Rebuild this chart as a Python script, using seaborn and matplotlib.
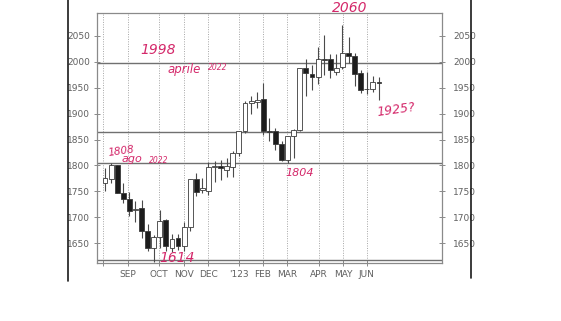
import matplotlib
matplotlib.use("Agg")
import matplotlib.pyplot as plt
import matplotlib.transforms as mtransforms
from matplotlib.lines import Line2D
import seaborn as sns
import numpy as np
import pandas as pd

# ---- data (weekly candles) ----
opens  = [1765, 1773, 1800, 1746, 1736, 1713, 1717, 1674, 1641, 1661,
          1694, 1641, 1659, 1645, 1680, 1773, 1753, 1751, 1796, 1798,
          1792, 1796, 1823, 1867, 1920, 1922, 1929, 1866, 1866, 1842,
          1810, 1856, 1869, 1988, 1977, 1970, 2006, 2005, 1981, 1990,
          2017, 2011, 1979, 1947, 1948, 1962]
highs  = [1794, 1804, 1801, 1765, 1748, 1732, 1734, 1686, 1666, 1713,
          1697, 1668, 1668, 1690, 1773, 1786, 1775, 1806, 1809, 1811,
          1815, 1827, 1867, 1924, 1935, 1941, 1960, 1891, 1872, 1848,
          1856, 1870, 1989, 2006, 1993, 2028, 2051, 2016, 2016, 2072,
          2048, 2017, 1984, 1981, 1972, 1970]
lows   = [1751, 1766, 1746, 1728, 1703, 1690, 1659, 1635, 1614, 1640,
          1635, 1632, 1637, 1635, 1674, 1740, 1746, 1742, 1767, 1771,
          1777, 1777, 1819, 1862, 1900, 1910, 1858, 1848, 1829, 1808,
          1804, 1814, 1866, 1935, 1945, 1958, 1974, 1968, 1974, 1986,
          1997, 1953, 1939, 1938, 1942, 1926]
closes = [1775, 1800, 1746, 1736, 1711, 1716, 1674, 1641, 1661, 1692,
          1645, 1657, 1645, 1680, 1773, 1748, 1757, 1796, 1799, 1794,
          1798, 1823, 1867, 1920, 1925, 1927, 1866, 1865, 1842, 1810,
          1856, 1869, 1988, 1979, 1970, 2006, 2003, 1984, 1989, 2017,
          2011, 1977, 1946, 1947, 1961, 1959]

month_pos    = [-0.33, 3.78, 8.87, 12.97, 16.92, 22.0, 25.95, 29.9, 35.1, 39.1, 43.0]
month_labels = ["", "SEP", "OCT", "NOV", "DEC", "'123", "FEB", "MAR", "APR", "MAY", "JUN"]
y_ticks      = [1650, 1700, 1750, 1800, 1850, 1900, 1950, 2000, 2050]
level_lines  = [1998, 1865, 1805, 1617]

# handwritten notes: (text, x_px, y_px, fontsize, rotation)
notes = [
    ("1998", 158, 50, 10, 0),
    ("aprile", 184, 69, 8.5, 0),
    ("2022", 218, 68, 5.5, 0),
    ("1808", 121, 151, 7.5, 8),
    ("ago", 132, 159, 8, 0),
    ("2022", 159, 160, 5.5, 0),
    ("1614", 177, 258, 10, 0),
    ("1804", 300, 173, 8, 0),
    ("2060", 350, 8, 10, 0),
    ("1925?", 396, 110, 9, 8),
]

df = pd.DataFrame({"open": opens, "high": highs, "low": lows, "close": closes})
df["idx"] = np.arange(len(df))
df["up"] = df["close"] >= df["open"]

sns.set_theme(style="white")
plt.rcParams["font.family"] = ["Liberation Sans Narrow", "DejaVu Sans"]

W, H = 561, 321
fig = plt.figure(figsize=(W / 100, H / 100), dpi=100)
fig.patch.set_facecolor("white")
ax = fig.add_axes([97 / W, 1 - 263 / H, (442 - 97) / W, (263 - 13) / H])
ax.set_facecolor("white")

# vertical dotted month grid
for p in month_pos:
    ax.axvline(p, color="#a5a5a5", lw=0.7, ls=(0, (1, 1.5)), zorder=0)

# level lines
for lv in level_lines:
    ax.axhline(lv, color="#707070", lw=1.0, zorder=1)

# wicks
ax.vlines(df["idx"], df["low"], df["high"], color="#4a4a4a", lw=0.8, zorder=2)

# bodies
bottoms = np.minimum(df["open"], df["close"])
heights = np.maximum(np.abs(df["close"] - df["open"]), 1.2)
face = np.where(df["up"], "white", "#1c1c1c")
ax.bar(df["idx"], heights, bottom=bottoms, width=0.8, color=face,
       edgecolor="#3a3a3a", linewidth=0.6, zorder=3)

ax.set_xlim(-1.31, 55.35)
ax.set_ylim(1611.4, 2094.4)
ax.set_xticks(month_pos)
ax.set_xticklabels(month_labels)
ax.set_yticks(y_ticks)
ax.set_yticklabels([str(v) for v in y_ticks])
ax.tick_params(axis="y", left=True, right=True, labelleft=True, labelright=True,
               direction="inout", length=4, width=0.6, color="#777777",
               labelsize=6.5, labelcolor="#606060", pad=3)
ax.tick_params(axis="x", bottom=True, direction="inout", length=4, width=0.6,
               color="#777777", labelsize=6.5, labelcolor="#606060", pad=3)
for s in ax.spines.values():
    s.set_color("#8a8a8a")
    s.set_linewidth(0.9)
ax.grid(False)

# shift right-hand labels a few pixels outward
shift = mtransforms.ScaledTranslation(4 / 100, 0, fig.dpi_scale_trans)
for lab in ax.yaxis.get_ticklabels(which="major"):
    pass
for t in ax.yaxis.get_major_ticks():
    t.label2.set_transform(t.label2.get_transform() + shift)

# page edges of the scan
fig.add_artist(Line2D([68 / W, 68 / W], [1, 1 - 281 / H], color="#1a1a1a", lw=1.2))
fig.add_artist(Line2D([471 / W, 471 / W], [1, 1 - 278 / H], color="#1a1a1a", lw=1.2))

# handwritten notes
for txt, x, y, fs, rot in notes:
    fig.text(x / W, 1 - y / H, txt, color="#d4286a", fontsize=fs, rotation=rot,
             ha="center", va="center", family=["DejaVu Sans"], style="italic")

fig.savefig("out.png", dpi=100, facecolor="white")
